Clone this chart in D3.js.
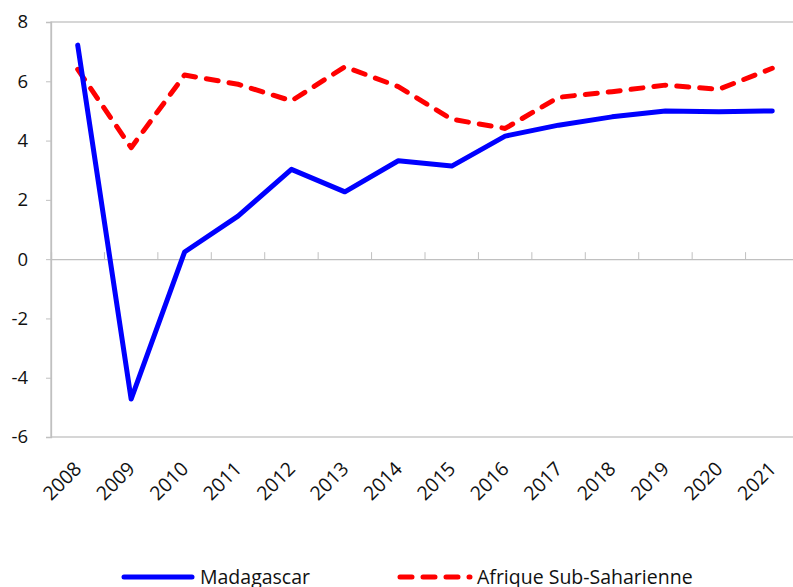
<!DOCTYPE html>
<html>
<head>
<meta charset="utf-8">
<script src="https://cdn.jsdelivr.net/npm/d3@7"></script>
<style>
  body { margin: 0; background: #fff; overflow: hidden; }
  text { font-family: "Open Sans", "Noto Sans", sans-serif; fill: #111; }
</style>
</head>
<body>
<svg id="chart" width="793" height="587"></svg>
<script>
var years = ["2008","2009","2010","2011","2012","2013","2014","2015","2016","2017","2018","2019","2020","2021"];
var madagascar = [7.22, -4.72, 0.24, 1.45, 3.03, 2.27, 3.32, 3.14, 4.15, 4.52, 4.80, 5.00, 4.97, 5.00];
var afrique = [6.40, 3.76, 6.21, 5.90, 5.34, 6.49, 5.82, 4.72, 4.41, 5.46, 5.65, 5.87, 5.73, 6.44];
var yTicks = [-6, -4, -2, 0, 2, 4, 6, 8];
var seriesNames = ["Madagascar", "Afrique Sub-Saharienne"];

var svg = d3.select("#chart");
var plotLeft = 51, plotTop = 22, plotRight = 799, plotBottom = 437;

var x = d3.scaleBand().domain(years).range([plotLeft, plotRight]);
var y = d3.scaleLinear().domain([-6, 8]).range([plotBottom, plotTop]);
var grey = "#c0c0c0";

// plot frame
svg.append("rect")
  .attr("x", plotLeft).attr("y", plotTop)
  .attr("width", plotRight - plotLeft).attr("height", plotBottom - plotTop)
  .attr("fill", "#fff").attr("stroke", grey).attr("stroke-width", 1.3);

// y axis
var yAxis = svg.append("g")
  .attr("transform", "translate(" + plotLeft + ",0)")
  .call(d3.axisLeft(y).tickValues(yTicks).tickSize(5).tickPadding(18)
    .tickFormat(function(d) { return String(d); }));
yAxis.select(".domain").attr("stroke", grey).attr("stroke-width", 1.3);
yAxis.selectAll(".tick line").attr("stroke", grey);
yAxis.selectAll("text").attr("font-size", 18.5).style("font-family", "'Open Sans', sans-serif").attr("fill", "#111");

// x axis on zero line
var xAxis = svg.append("g")
  .attr("transform", "translate(0," + y(0) + ")")
  .call(d3.axisTop(x).tickSize(7).tickFormat(""));
xAxis.select(".domain").attr("stroke", grey).attr("stroke-width", 1.3);
xAxis.selectAll(".tick")
  .attr("transform", function(d) { return "translate(" + (x(d) + x.bandwidth()) + ",0)"; });
xAxis.selectAll(".tick line").attr("stroke", grey);

// x labels, rotated
svg.append("g").selectAll("text")
  .data(years)
  .enter().append("text")
  .attr("transform", function(d) {
    return "translate(" + (x(d) + x.bandwidth() / 2 + 5) + ",470) rotate(-45)";
  })
  .attr("text-anchor", "end")
  .attr("font-size", 19.5)
  .text(function(d) { return d; });

var line = d3.line()
  .x(function(d, i) { return x(years[i]) + x.bandwidth() / 2; })
  .y(function(d) { return y(d); });

svg.append("path")
  .datum(afrique)
  .attr("d", line)
  .attr("fill", "none")
  .attr("stroke", "#ff0000")
  .attr("stroke-width", 5)
  .attr("stroke-linecap", "round")
  .attr("stroke-linejoin", "round")
  .attr("stroke-dasharray", "12,11");

svg.append("path")
  .datum(madagascar)
  .attr("d", line)
  .attr("fill", "none")
  .attr("stroke", "#0000ff")
  .attr("stroke-width", 5)
  .attr("stroke-linecap", "round")
  .attr("stroke-linejoin", "round");

// legend
var legend = svg.append("g");
var legendItems = [
  { name: seriesNames[0], color: "#0000ff", dash: null, x1: 124, x2: 192, tx: 200 },
  { name: seriesNames[1], color: "#ff0000", dash: "12,11", x1: 400, x2: 470, tx: 477 }
];
legendItems.forEach(function(it) {
  legend.append("line")
    .attr("x1", it.x1).attr("x2", it.x2)
    .attr("y1", 577).attr("y2", 577)
    .attr("stroke", it.color).attr("stroke-width", 5)
    .attr("stroke-linecap", "round")
    .attr("stroke-dasharray", it.dash);
  legend.append("text")
    .attr("x", it.tx).attr("y", 584)
    .attr("font-size", 19.5)
    .text(it.name);
});
</script>
</body>
</html>
